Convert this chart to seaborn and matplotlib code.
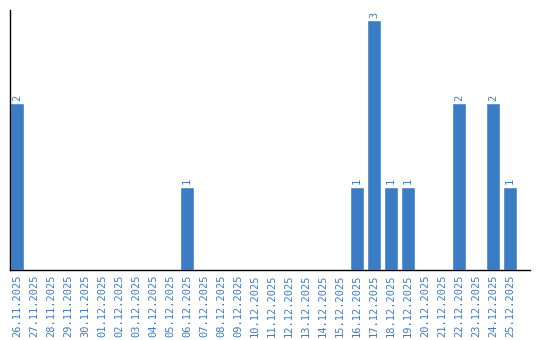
import matplotlib
matplotlib.use("Agg")
import matplotlib.pyplot as plt
import seaborn as sns
import pandas as pd

dates = ["26.11.2025", "27.11.2025", "28.11.2025", "29.11.2025", "30.11.2025",
         "01.12.2025", "02.12.2025", "03.12.2025", "04.12.2025", "05.12.2025",
         "06.12.2025", "07.12.2025", "08.12.2025", "09.12.2025", "10.12.2025",
         "11.12.2025", "12.12.2025", "13.12.2025", "14.12.2025", "15.12.2025",
         "16.12.2025", "17.12.2025", "18.12.2025", "19.12.2025", "20.12.2025",
         "21.12.2025", "22.12.2025", "23.12.2025", "24.12.2025", "25.12.2025"]
counts = [2, 0, 0, 0, 0, 0, 0, 0, 0, 0,
          1, 0, 0, 0, 0, 0, 0, 0, 0, 0,
          1, 3, 1, 1, 0, 0, 2, 0, 2, 1]

color = "#3b7dc4"
df = pd.DataFrame({"date": dates, "count": counts})

sns.set_style("white")
plt.rcParams['font.family'] = ['DejaVu Sans Mono', 'DejaVu Sans']

fig = plt.figure(figsize=(5.4, 3.4), dpi=100)
ax = fig.add_axes([10/540, 70/340, 520/540, 260/340])
sns.barplot(data=df, x="date", y="count", color=color, saturation=1, width=0.82, ax=ax)

step_px = 17.0
left = -0.41
ax.set_xlim(left, left + 520 / step_px)
ax.set_ylim(0, 3.12)
ax.set_xlabel("")
ax.set_ylabel("")
ax.set_yticks([])
ax.tick_params(axis="x", labelrotation=90, labelsize=7.5, labelcolor=color, length=0, pad=3)
for s in ["top", "right"]:
    ax.spines[s].set_visible(False)
for s in ["left", "bottom"]:
    ax.spines[s].set_color("black")
    ax.spines[s].set_linewidth(1)

for i, v in enumerate(counts):
    if v > 0:
        ax.text(i, v + 0.03, str(v), rotation=90, ha="center", va="bottom",
                color=color, fontsize=7.5)

fig.savefig("out.png", dpi=100)
